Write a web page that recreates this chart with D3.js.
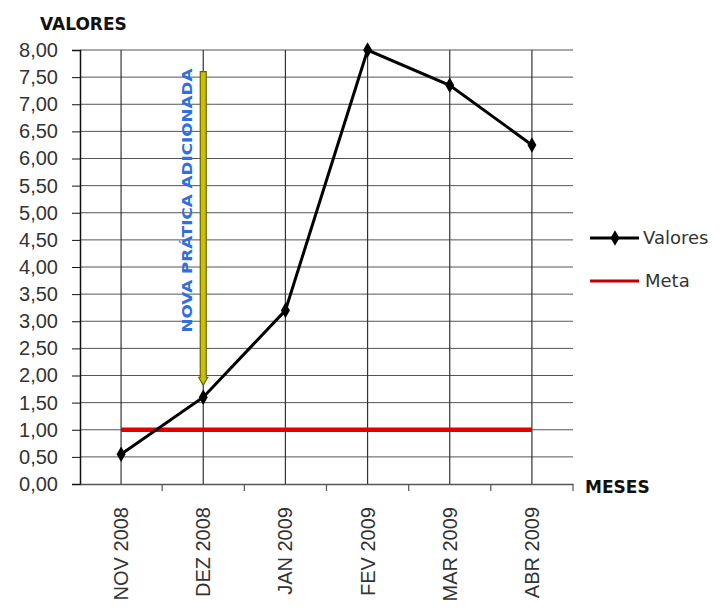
<!DOCTYPE html>
<meta charset="utf-8">
<script src="https://d3js.org/d3.v7.min.js"></script>
<style>
body { margin: 0; background: #fff; }
svg { font-family: "DejaVu Sans", sans-serif; }
</style>
<div id="chart"></div>
<script>
// data
var meses = ["NOV 2008", "DEZ 2008", "JAN 2009", "FEV 2009", "MAR 2009", "ABR 2009"];
var valores = [0.55, 1.60, 3.20, 8.00, 7.35, 6.25];
var meta = [1.00, 1.00, 1.00, 1.00, 1.00, 1.00];
var yTicks = [0, 0.5, 1, 1.5, 2, 2.5, 3, 3.5, 4, 4.5, 5, 5.5, 6, 6.5, 7, 7.5, 8];
var marco = { mes: "DEZ 2008", de: 7.6, ate: 1.82, texto: "NOVA PRÁTICA ADICIONADA" };

var W = 720, H = 609;
var pL = 80, pR = 573, pT = 50, pB = 484;

var svg = d3.select("#chart").append("svg")
    .attr("width", W).attr("height", H);

var x = d3.scaleBand().domain(meses).range([pL, pR]).padding(0);
var y = d3.scaleLinear().domain([0, 8]).range([pB, pT]);
var cx = function(d) { return x(d) + x.bandwidth() / 2; };

var br = d3.formatLocale({ decimal: ",", thousands: ".", grouping: [3], currency: ["R$", ""] });
var fmt = br.format(".2f");

// horizontal grid
svg.append("g").selectAll("line")
  .data(yTicks.slice(1))
  .enter().append("line")
    .attr("x1", pL).attr("x2", pR)
    .attr("y1", function(d) { return y(d); })
    .attr("y2", function(d) { return y(d); })
    .attr("stroke", "#555").attr("stroke-width", 1);

// vertical grid at categories
svg.append("g").selectAll("line")
  .data(meses)
  .enter().append("line")
    .attr("x1", cx).attr("x2", cx)
    .attr("y1", pT).attr("y2", pB)
    .attr("stroke", "#333").attr("stroke-width", 1.2);

// y axis
var yAxis = svg.append("g")
    .attr("transform", "translate(" + pL + ",0)")
    .call(d3.axisLeft(y).tickValues(yTicks).tickFormat(fmt).tickSize(8).tickPadding(14));
yAxis.select(".domain").attr("stroke", "#111").attr("stroke-width", 1.5);
yAxis.selectAll(".tick line").attr("stroke", "#111");
yAxis.selectAll("text").attr("font-size", "20px").attr("fill", "#333");

// x axis
var xAxis = svg.append("g")
    .attr("transform", "translate(0," + pB + ")")
    .call(d3.axisBottom(x).tickSize(0).tickPadding(0));
xAxis.select(".domain").attr("stroke", "#555").attr("stroke-width", 1.5);
xAxis.selectAll("text")
    .attr("font-size", "20px").attr("fill", "#333")
    .attr("text-anchor", "end")
    .attr("dy", "0.35em")
    .attr("transform", "translate(0,23) rotate(-90)");
// tick marks between categories
svg.append("g").selectAll("line")
  .data(meses.slice(1).map(function(d) { return x(d); }).concat([pR]))
  .enter().append("line")
    .attr("x1", function(d) { return d; }).attr("x2", function(d) { return d; })
    .attr("y1", pB).attr("y2", pB + 7)
    .attr("stroke", "#555").attr("stroke-width", 1.2);

// meta line
var line = d3.line().x(function(d, i) { return cx(meses[i]); }).y(function(d) { return y(d); });
svg.append("path").datum(meta)
    .attr("d", line)
    .attr("fill", "none").attr("stroke", "#e00000").attr("stroke-width", 4.5);

// arrow (nova pratica)
var ax = cx(marco.mes);
var y1 = y(marco.de), y2 = y(marco.ate);
svg.append("path")
    .attr("d", "M" + (ax - 3) + "," + y1 + "L" + (ax + 3) + "," + y1 +
               "L" + (ax + 3) + "," + (y2 - 8) + "L" + (ax + 4.5) + "," + (y2 - 8) +
               "L" + ax + "," + y2 + "L" + (ax - 4.5) + "," + (y2 - 8) +
               "L" + (ax - 3) + "," + (y2 - 8) + "Z")
    .attr("fill", "#c8c000").attr("stroke", "#6b6500").attr("stroke-width", 1.2);

svg.append("text")
    .attr("transform", "translate(" + (ax - 11) + "," + ((y1 + y(2.85)) / 2) + ") rotate(-90)")
    .attr("text-anchor", "middle")
    .attr("font-size", "14px").attr("font-weight", "bold")
    .attr("fill", "#2f6fe0")
    .attr("textLength", 264).attr("lengthAdjust", "spacingAndGlyphs")
    .text(marco.texto);

// valores line
svg.append("path").datum(valores)
    .attr("d", line)
    .attr("fill", "none").attr("stroke", "#000").attr("stroke-width", 3);
var diamond = d3.symbol().type(d3.symbolDiamond).size(70);
svg.append("g").selectAll("path")
  .data(valores)
  .enter().append("path")
    .attr("d", diamond)
    .attr("transform", function(d, i) { return "translate(" + cx(meses[i]) + "," + y(d) + ")"; })
    .attr("fill", "#000");

// axis titles
svg.append("text").attr("x", 40).attr("y", 30)
    .attr("font-size", "17px").attr("font-weight", "bold").attr("fill", "#111")
    .text("VALORES");
svg.append("text").attr("x", 585).attr("y", 493)
    .attr("font-size", "17px").attr("font-weight", "bold").attr("fill", "#111")
    .text("MESES");

// legend
var lg = svg.append("g");
lg.append("line").attr("x1", 590).attr("x2", 639).attr("y1", 238).attr("y2", 238)
    .attr("stroke", "#000").attr("stroke-width", 3);
lg.append("path").attr("d", diamond).attr("transform", "translate(615,238)").attr("fill", "#000");
lg.append("text").attr("x", 643).attr("y", 244).attr("font-size", "18px").attr("fill", "#333").text("Valores");
lg.append("line").attr("x1", 590).attr("x2", 639).attr("y1", 281).attr("y2", 281)
    .attr("stroke", "#c00000").attr("stroke-width", 3);
lg.append("text").attr("x", 645).attr("y", 287).attr("font-size", "18px").attr("fill", "#333").text("Meta");
</script>
